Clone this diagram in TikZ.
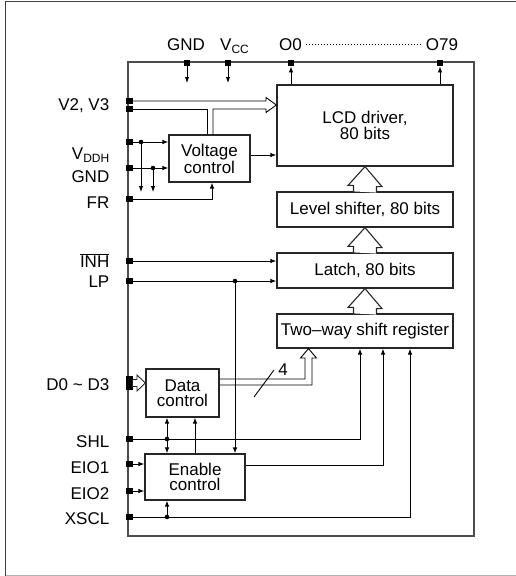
\documentclass[tikz,border=0pt]{standalone}
\usepackage{fontspec}
\setmainfont{Liberation Sans}
\usetikzlibrary{arrows.meta}
\newcommand{\subs}[1]{\raisebox{-0.35ex}{\fontsize{12}{12}\selectfont #1}}

\begin{document}
\begin{tikzpicture}[
  x=1pt, y=-1pt,
  font=\fontsize{17}{15.5}\selectfont,
  >={Latex[length=6pt,width=4.5pt]},
  block/.style={draw=black!85, line width=1.2pt, align=center, inner sep=0pt},
  pinsq/.style={fill=black, minimum size=6.5pt, inner sep=0pt},
  pinlabel/.style={anchor=base east, inner sep=0pt},
  toplabel/.style={anchor=base, inner sep=0pt},
  wire/.style={line width=0.9pt},
  sig/.style={->, line width=0.9pt},
  hollow/.style={draw=black!85, line width=1.1pt, fill=white, line join=miter}
]
\useasboundingbox (0,0) rectangle (515,576);

% page frame and chip outline
\draw[black!75, line width=1.5pt] (5.5,576) -- (5.5,1.5) -- (516,1.5);
\draw[black!30, line width=1.5pt] (5.5,575.5) -- (516,575.5);
\draw[black!70, line width=1.3pt] (128,62) rectangle (474,536);

% blocks
\node[block, minimum width=176, minimum height=81] (lcd) at (365,125.5) {LCD driver,\\80 bits};
\node[block, minimum width=176, minimum height=35] (shifter) at (365,209.5) {Level shifter, 80 bits};
\node[block, minimum width=176, minimum height=35] (latch) at (365,270.5) {Latch, 80 bits};
\node[block, minimum width=176, minimum height=34] (shiftreg) at (365,331) {Two--way shift register};
\node[block, minimum width=81, minimum height=47] (volt) at (209.5,158.5) {Voltage\\control};
\node[block, minimum width=73, minimum height=48] (data) at (182.5,393) {Data\\control};
\node[block, minimum width=100, minimum height=46] (enable) at (195,477) {Enable\\control};

% pins
\foreach \nm/\yy in {v2/101, v3/109, vddh/142, gndl/168, fr/199, inh/261, lp/281,
                     shl/439, eio1/464, eio2/491, xscl/517}
  \node[pinsq] (\nm) at (129.5,\yy) {};
\node[pinsq, minimum height=14pt] (d03) at (129.5,383) {};
\foreach \nm/\xx in {gndt/187, vcc/228, o0/291, o79/440}
  \node[pinsq] (\nm) at (\xx,63) {};

% pin labels
\foreach \nm/\yy/\txt in {v23/110/{V2, V3}, vddh/159/{V\subs{DDH}}, gndl/182/GND,
    fr/208/FR, inh/267/{$\overline{\mbox{INH}}$}, lp/287/LP,
    d03/390/{D0 \textasciitilde\ D3}, shl/447/SHL, eio1/473/EIO1,
    eio2/499/EIO2, xscl/524/XSCL}
  \node[pinlabel] (\nm-l) at (109.5,\yy) {\txt};
\node[toplabel] (gndt-l) at (186,50) {GND};
\node[toplabel, anchor=base west] (vcc-l) at (220,50) {V\subs{CC}};
\node[toplabel] (o0-l) at (290.5,50) {O0};
\node[toplabel] (o79-l) at (442,50) {O79};
\draw[line width=0.8pt, dash pattern=on 1pt off 2pt] ([xshift=4pt,yshift=5.5pt]o0-l.base east)
  -- ([xshift=-4pt,yshift=5.5pt]o79-l.base west);

% supply and outputs on top edge
\draw[sig] (gndt.center) -- ++(0,20);
\draw[sig] (vcc.center) -- ++(0,20);
\draw[sig] (lcd.north -| o0) -- (o0.south);
\draw[sig] (lcd.north -| o79) -- (o79.south);

% V2, V3 bus
\draw[wire, line join=miter] (v2.center) -- (266,101) -- (266,97.5) -- (lcd.west |- 0,105)
  -- (266,112.5) -- (266,109) -- (213,109) -- (volt.north -| 213,0);
\draw[wire] (volt.north -| 207,0) -- (207,109) -- (v3.center);

% voltage control inputs
\draw[sig] (vddh.center) -- (vddh -| volt.west);
\coordinate (j-vddh) at (141,142);
\fill (j-vddh) circle (2.3pt);
\draw[sig] (j-vddh) -- ++(0,50);
\draw[sig] (gndl.center) -- (gndl -| volt.west);
\coordinate (j-gnd) at (153,168);
\fill (j-gnd) circle (2.3pt);
\draw[sig] (j-gnd) -- ++(0,24);
\draw[sig] (fr.center) -| ([xshift=2.5pt]volt.south);
\draw[sig] (volt.east |- 0,155) -- (lcd.west |- 0,155);

% latch inputs
\draw[sig] (inh.center) -- (inh -| latch.west);
\draw[sig] (lp.center) -- (lp -| latch.west);
\coordinate (j-lp) at (235,281);
\fill (j-lp) circle (2.3pt);
\draw[sig] (j-lp) -- (j-lp |- enable.north);

% hollow arrows up the stack
\foreach \lo/\hi in {shiftreg/latch, latch/shifter, shifter/lcd}
  \draw[hollow] ([xshift=-11.5pt]\lo.north) -- ++(0,-6) -- ++(-5.5,0) -- (\hi.south)
    -- ++(17,20) -- ++(-5.5,0) -- ++(0,6);

% data input and 4-bit bus
\draw[hollow, line width=0.9pt] (d03.east |- 0,379.5) -- (137,379.5) -- (137,375)
  -- (data.west |- d03) -- (137,391) -- (137,386.5) -- (d03.east |- 0,386.5);
\draw[wire, line join=miter] (data.east |- 0,379) -- (305,379) -- (305,358) -- (300.5,358)
  -- (shiftreg.south -| 308.5,0) -- (316.5,358) -- (312,358) -- (312,385) -- (data.east |- 0,385);
\draw[wire] (254,397) -- (274,370);
\node (buswidth) at (283,370) {4};

% control lines
\draw[sig] (shl.center) -| (shiftreg.south -| 360,0);
\coordinate (j-shl) at (167,439);
\fill (j-shl) circle (2.3pt);
\draw[sig, <->] (data.south -| j-shl) -- (enable.north -| j-shl);
\draw[sig] (enable.north) -- (enable.north |- data.south);
\draw[sig] (enable.east |- 0,465) -| (shiftreg.south -| 383,0);
\draw[sig] (eio1.center) -- (eio1 -| enable.west);
\draw[sig] (eio2.center) -- (eio2 -| enable.west);
\draw[sig] (xscl.center) -| (shiftreg.south -| 410,0);
\coordinate (j-xscl) at (167,517);
\fill (j-xscl) circle (2.3pt);
\draw[sig] (j-xscl) -- (j-xscl |- enable.south);
\end{tikzpicture}
\end{document}
